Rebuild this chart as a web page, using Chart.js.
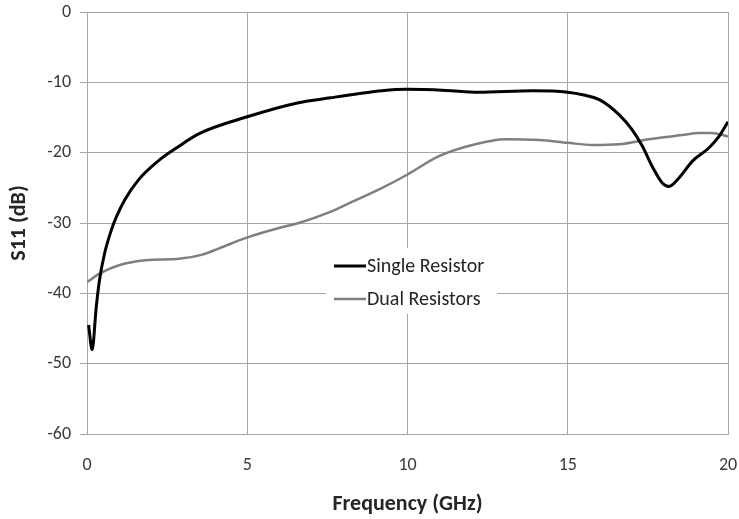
<!DOCTYPE html>
<html>
<head>
<meta charset="utf-8">
<script src="https://cdn.jsdelivr.net/npm/chart.js@4/dist/chart.umd.min.js"></script>
<style>
html,body{margin:0;padding:0;background:#fff;}
canvas{display:block;}
</style>
</head>
<body>
<canvas id="c" width="739" height="519"></canvas>
<script>
// Frequency (GHz) and S11 (dB)
const freqSingle = [0.05, 0.16, 0.29, 0.39, 0.55, 0.76, 0.92, 1.18, 1.6, 2.27, 2.8, 3.5, 5.0, 6.6, 7.6, 8.5, 9.2, 10.0, 11.2, 12.2, 13.9, 15.0, 15.5, 16.0, 16.6, 17.0, 17.33, 17.64, 17.95, 18.16, 18.47, 18.89, 19.41, 19.72, 20.0];
const s11Single  = [-44.5, -48.0, -41.9, -38.1, -34.3, -31.0, -29.1, -26.7, -23.9, -21.0, -19.3, -17.3, -14.9, -12.9, -12.2, -11.6, -11.2, -11.0, -11.15, -11.4, -11.2, -11.4, -11.8, -12.5, -14.6, -16.7, -19.1, -22.0, -24.3, -24.8, -23.6, -21.2, -19.3, -17.7, -15.6];
const freqDual = [0.0, 0.43, 1.0, 1.83, 2.87, 3.6, 4.12, 5.03, 5.99, 6.61, 7.55, 8.17, 9.21, 10.0, 10.98, 12.02, 13.06, 14.1, 15.0, 15.77, 16.6, 17.53, 18.57, 19.09, 19.5, 20.0];
const s11Dual  = [-38.4, -37.1, -36.0, -35.3, -35.1, -34.5, -33.6, -32.0, -30.7, -30.0, -28.5, -27.2, -25.0, -23.1, -20.5, -18.9, -18.1, -18.2, -18.6, -18.9, -18.8, -18.1, -17.5, -17.2, -17.2, -17.7];
const xTicks = [0, 5, 10, 15, 20];
const yTicks = [0, -10, -20, -30, -40, -50, -60];
const seriesNames = ['Single Resistor', 'Dual Resistors'];

const toPts = (xs, ys) => xs.map((x, i) => ({x: x, y: ys[i]}));
const FONT = "Carlito, Lato, 'Liberation Sans', sans-serif";

const insideLegend = {
  id: 'insideLegend',
  afterDraw(chart) {
    const ctx = chart.ctx;
    ctx.save();
    ctx.fillStyle = '#ffffff';
    ctx.fillRect(326, 248, 171, 66);
    const rows = [266, 299];
    chart.data.datasets.forEach((ds, i) => {
      const y = rows[i];
      ctx.strokeStyle = ds.borderColor;
      ctx.lineWidth = ds.borderWidth;
      ctx.beginPath();
      ctx.moveTo(334, y);
      ctx.lineTo(366, y);
      ctx.stroke();
      ctx.fillStyle = '#262626';
      ctx.font = "20px " + FONT;
      ctx.textBaseline = 'middle';
      ctx.textAlign = 'left';
      ctx.fillText(ds.label, 367, y + 1);
    });
    ctx.restore();
  }
};

new Chart(document.getElementById('c'), {
  type: 'line',
  data: {
    datasets: [
      {label: seriesNames[0], data: toPts(freqSingle, s11Single), borderColor: '#000000', borderWidth: 3, pointRadius: 0, cubicInterpolationMode: 'monotone', fill: false},
      {label: seriesNames[1], data: toPts(freqDual, s11Dual), borderColor: '#7f7f7f', borderWidth: 2.5, pointRadius: 0, cubicInterpolationMode: 'monotone', fill: false}
    ]
  },
  options: {
    responsive: false,
    animation: false,
    events: [],
    layout: {padding: {top: 12, right: 11, left: 0, bottom: 0}},
    plugins: {legend: {display: false}, tooltip: {enabled: false}},
    scales: {
      x: {
        type: 'linear', min: 0, max: 20,
        afterBuildTicks: s => { s.ticks = xTicks.map(v => ({value: v})); },
        afterFit: s => { s.height = 85; s.paddingLeft = 0; s.paddingRight = 0; },
        grid: {color: '#a6a6a6', lineWidth: 1, drawTicks: false},
        border: {color: '#a6a6a6', width: 1},
        ticks: {padding: 21, color: '#3a3a3a', font: {family: FONT, size: 18}, maxRotation: 0},
        title: {display: true, text: 'Frequency (GHz)', color: '#262626', font: {family: FONT, size: 22, weight: 'bold'}, padding: {top: 0, bottom: 1}}
      },
      y: {
        type: 'linear', min: -60, max: 0,
        afterBuildTicks: s => { s.ticks = yTicks.map(v => ({value: v})); },
        afterFit: s => { s.width = 87; s.paddingTop = 0; s.paddingBottom = 0; },
        grid: {color: '#a6a6a6', lineWidth: 1, drawTicks: true, tickLength: 7},
        border: {color: '#a6a6a6', width: 1},
        ticks: {padding: 9, color: '#3a3a3a', font: {family: FONT, size: 18}},
        title: {display: true, text: 'S11 (dB)', color: '#262626', font: {family: FONT, size: 22, weight: 'bold'}, padding: {top: 6, bottom: 0}}
      }
    }
  },
  plugins: [insideLegend]
});
</script>
</body>
</html>
